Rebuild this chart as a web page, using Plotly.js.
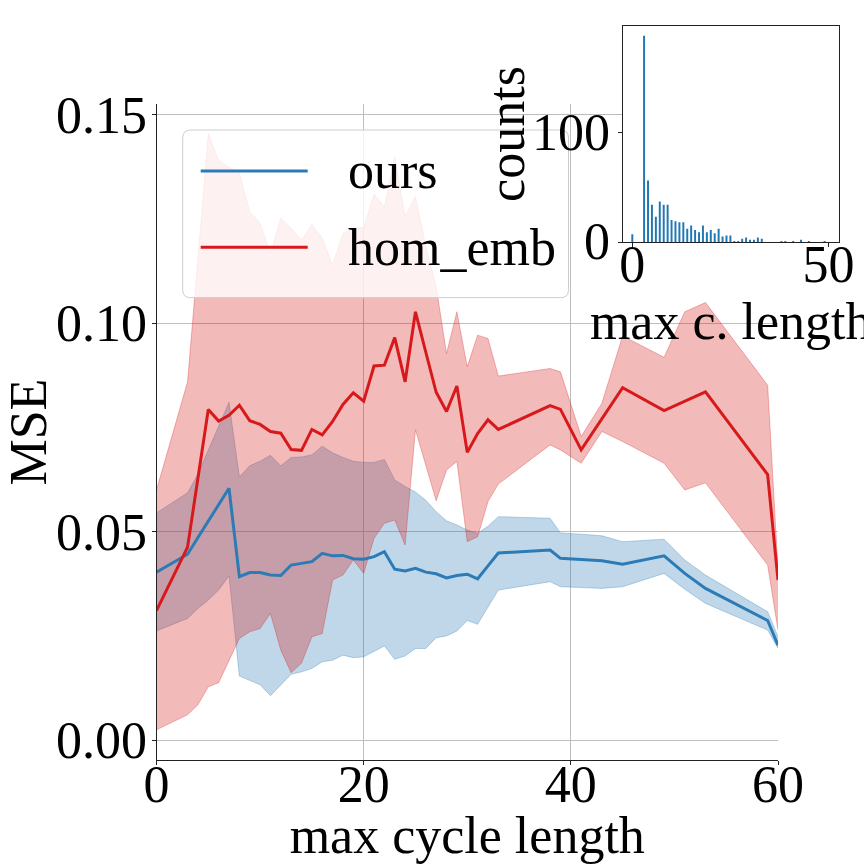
<!doctype html>
<html>
<head>
  <meta charset="utf-8">
  <title>MSE vs max cycle length</title>
  <script src="https://cdn.plot.ly/plotly-3.0.1.min.js"></script>
  <style>
    body { margin: 0; background: #fff; }
    #chart { width: 864px; height: 864px; }
  </style>
</head>
<body>
  <div id="chart"></div>
  <script>
    // x positions (max cycle length) shared by both series
    var cycleLen = [0, 3, 4, 5, 6, 7, 8, 9, 10, 11, 12, 13, 14, 15, 16, 17, 18, 19, 20,
                    21, 22, 23, 24, 25, 26, 27, 28, 29, 30, 31, 32, 33, 38, 39, 41, 43,
                    45, 49, 51, 53, 59, 60];

    // ours: mean and band
    var oursMean = [0.0403, 0.0446, 0.0486, 0.0525, 0.0565, 0.0604, 0.0392, 0.0402, 0.0402,
                    0.0396, 0.0395, 0.0420, 0.0424, 0.0428, 0.0448, 0.0442, 0.0443, 0.0435,
                    0.0434, 0.0440, 0.0452, 0.0410, 0.0406, 0.0412, 0.0403, 0.0399, 0.0389,
                    0.0395, 0.0398, 0.0387, 0.0418, 0.0449, 0.0456, 0.0436, 0.0433, 0.0430,
                    0.0422, 0.0442, 0.0400, 0.0364, 0.0287, 0.0228];
    var oursUpper = [0.0545, 0.0593, 0.0638, 0.0696, 0.0754, 0.0810, 0.0631, 0.0658, 0.0669,
                     0.0683, 0.0658, 0.0678, 0.0679, 0.0684, 0.0705, 0.0689, 0.0678, 0.0669,
                     0.0666, 0.0666, 0.0673, 0.0624, 0.0608, 0.0595, 0.0575, 0.0548, 0.0526,
                     0.0516, 0.0504, 0.0496, 0.0513, 0.0536, 0.0532, 0.0497, 0.0494, 0.0490,
                     0.0476, 0.0482, 0.0432, 0.0396, 0.0308, 0.0248];
    var oursLower = [0.0262, 0.0292, 0.0316, 0.0336, 0.0360, 0.0394, 0.0154, 0.0143, 0.0133,
                     0.0107, 0.0133, 0.0158, 0.0164, 0.0172, 0.0188, 0.0192, 0.0204, 0.0198,
                     0.0200, 0.0212, 0.0226, 0.0194, 0.0202, 0.0220, 0.0220, 0.0246, 0.0250,
                     0.0262, 0.0287, 0.0278, 0.0320, 0.0360, 0.0380, 0.0368, 0.0366, 0.0364,
                     0.0368, 0.0400, 0.0362, 0.0328, 0.0264, 0.0220];

    // hom_emb: mean and band
    var homMean = [0.0311, 0.0463, 0.0628, 0.0793, 0.0765, 0.0779, 0.0803, 0.0766, 0.0757,
                   0.0740, 0.0736, 0.0697, 0.0695, 0.0745, 0.0732, 0.0764, 0.0805, 0.0833,
                   0.0813, 0.0897, 0.0899, 0.0965, 0.0859, 0.1027, 0.0930, 0.0834, 0.0788,
                   0.0849, 0.0690, 0.0735, 0.0768, 0.0745, 0.0802, 0.0793, 0.0696, 0.0770,
                   0.0845, 0.0790, 0.0813, 0.0835, 0.0637, 0.0384];
    var homUpper = [0.0600, 0.0859, 0.1156, 0.1454, 0.1390, 0.1373, 0.1359, 0.1267, 0.1239,
                    0.1167, 0.1252, 0.1227, 0.1199, 0.1237, 0.1203, 0.1139, 0.1215, 0.1227,
                    0.1229, 0.1309, 0.1279, 0.1399, 0.1255, 0.1304, 0.1183, 0.1087, 0.0927,
                    0.1027, 0.0895, 0.0971, 0.0963, 0.0873, 0.0891, 0.0883, 0.0728, 0.0808,
                    0.0969, 0.0918, 0.1027, 0.1049, 0.0851, 0.0410];
    var homLower = [0.0025, 0.0061, 0.0085, 0.0128, 0.0138, 0.0192, 0.0244, 0.0260, 0.0268,
                    0.0304, 0.0216, 0.0162, 0.0185, 0.0248, 0.0256, 0.0384, 0.0396, 0.0432,
                    0.0400, 0.0484, 0.0520, 0.0528, 0.0468, 0.0744, 0.0660, 0.0574, 0.0648,
                    0.0668, 0.0476, 0.0488, 0.0572, 0.0614, 0.0708, 0.0696, 0.0664, 0.0740,
                    0.0716, 0.0664, 0.0600, 0.0617, 0.0420, 0.0264];

    // inset histogram
    var histLen = [0, 3, 4, 5, 6, 7, 8, 9, 10, 11, 12, 13, 14, 15, 16, 17, 18, 19, 20, 21,
                   22, 23, 24, 25, 26, 27, 28, 29, 30, 31, 32, 33, 38, 39, 41, 43, 45, 49];
    var histCounts = [7, 188, 56, 34, 23, 37, 34, 34, 20, 19, 18, 18, 12, 15, 11, 9, 15, 9,
                      11, 8, 12, 5, 6, 6, 1, 1, 3, 4, 2, 2, 4, 3, 1, 1, 1, 2, 1, 1];

    var seriesNames = ['ours', 'hom_emb'];
    var mainXTicks = [0, 20, 40, 60];
    var mainYTicks = [0, 0.05, 0.10, 0.15];
    var insetXTicks = [0, 50];
    var insetYTicks = [0, 100];

    var BLUE = '#2c7bb6', RED = '#d7191c';
    var BLUE_FILL = 'rgba(44,123,182,0.3)', RED_FILL = 'rgba(215,25,28,0.3)';
    var FONT = 'Liberation Serif, Times New Roman, serif';
    var FS = 52;

    // pixel -> paper helpers (page is 864x864, no margins)
    var W = 864;
    function px(x) { return x / W; }
    function py(y) { return 1 - y / W; }

    var traces = [
      {x: cycleLen, y: oursUpper, mode: 'lines', line: {color: BLUE_FILL, width: 1},
       hoverinfo: 'skip', showlegend: false},
      {x: cycleLen, y: oursLower, mode: 'lines', fill: 'tonexty', fillcolor: BLUE_FILL,
       line: {color: BLUE_FILL, width: 1}, hoverinfo: 'skip', showlegend: false},
      {x: cycleLen, y: homUpper, mode: 'lines', line: {color: RED_FILL, width: 1},
       hoverinfo: 'skip', showlegend: false},
      {x: cycleLen, y: homLower, mode: 'lines', fill: 'tonexty', fillcolor: RED_FILL,
       line: {color: RED_FILL, width: 1}, hoverinfo: 'skip', showlegend: false},
      {x: cycleLen, y: oursMean, mode: 'lines', name: seriesNames[0],
       line: {color: BLUE, width: 3}},
      {x: cycleLen, y: homMean, mode: 'lines', name: seriesNames[1],
       line: {color: RED, width: 3}},
      {x: histLen, y: histCounts, type: 'bar', width: 0.5, xaxis: 'x2', yaxis: 'y2',
       marker: {color: '#1f77b4', line: {width: 0}}, showlegend: false}
    ];

    var axisCommon = {
      showline: true, linecolor: '#222', linewidth: 1,
      ticks: 'outside', ticklen: 4, tickcolor: '#222', tickwidth: 1,
      zeroline: false, automargin: false,
      tickfont: {family: FONT, size: FS, color: '#000'},
      title: {font: {family: FONT, size: FS, color: '#000'}}
    };
    function axis(extra) {
      var a = JSON.parse(JSON.stringify(axisCommon));
      for (var k in extra) {
        if (k === 'title') { a.title.text = extra.title.text; a.title.standoff = extra.title.standoff; }
        else a[k] = extra[k];
      }
      return a;
    }

    // custom legend box with rounded corners
    var lx0 = px(182.7), lx1 = px(568.5), ly0 = py(297.7), ly1 = py(130);
    var r = 8 / W;
    var legendPath = 'M ' + (lx0 + r) + ' ' + ly1 +
      ' L ' + (lx1 - r) + ' ' + ly1 + ' Q ' + lx1 + ' ' + ly1 + ' ' + lx1 + ' ' + (ly1 - r) +
      ' L ' + lx1 + ' ' + (ly0 + r) + ' Q ' + lx1 + ' ' + ly0 + ' ' + (lx1 - r) + ' ' + ly0 +
      ' L ' + (lx0 + r) + ' ' + ly0 + ' Q ' + lx0 + ' ' + ly0 + ' ' + lx0 + ' ' + (ly0 + r) +
      ' L ' + lx0 + ' ' + (ly1 - r) + ' Q ' + lx0 + ' ' + ly1 + ' ' + (lx0 + r) + ' ' + ly1 + ' Z';
    var legendRows = [py(171), py(247.3)];
    var legendColors = [BLUE, RED];

    var shapes = [
      {type: 'path', xref: 'paper', yref: 'paper', path: legendPath, layer: 'above',
       fillcolor: 'rgba(255,255,255,0.8)', line: {color: '#cccccc', width: 1}}
    ];
    var annotations = [];
    seriesNames.forEach(function(name, i) {
      shapes.push({type: 'line', xref: 'paper', yref: 'paper', layer: 'above',
        x0: px(200.7), x1: px(307.7), y0: legendRows[i], y1: legendRows[i],
        line: {color: legendColors[i], width: 3}});
      annotations.push({xref: 'paper', yref: 'paper', x: px(346), y: legendRows[i],
        xanchor: 'left', yanchor: 'middle', text: name, showarrow: false,
        font: {family: FONT, size: FS, color: '#000'}});
    });
    // inset y tick labels drawn as annotations so they sit above the legend box
    insetYTicks.forEach(function(v) {
      annotations.push({xref: 'x2 domain', yref: 'y2', x: 0, y: v, xshift: -11,
        xanchor: 'right', yanchor: 'middle', text: String(v), showarrow: false,
        font: {family: FONT, size: FS, color: '#000'}});
    });

    var layout = {
      width: 864, height: 864,
      margin: {l: 0, r: 0, t: 0, b: 0},
      paper_bgcolor: '#fff', plot_bgcolor: '#fff',
      font: {family: FONT, size: FS, color: '#000'},
      showlegend: false,
      xaxis: axis({domain: [px(156.5), px(778)], range: [0, 60], anchor: 'y',
        tickvals: mainXTicks, showgrid: true, gridcolor: '#bdbdbd', gridwidth: 1,
        ticklabelstandoff: -26,
        title: {text: 'max cycle length', standoff: 24}}),
      yaxis: axis({domain: [py(760.3), py(104)], range: [-0.0048, 0.1525], anchor: 'x',
        tickvals: mainYTicks, tickformat: '.2f', showgrid: true, gridcolor: '#bdbdbd', gridwidth: 1,
        ticklabelstandoff: -6,
        title: {text: 'MSE', standoff: 17}}),
      xaxis2: axis({domain: [px(622.7), px(838.7)], range: [-2.45, 52.6], anchor: 'y2',
        tickvals: insetXTicks, showgrid: false, mirror: true,
        ticklabelstandoff: -27,
        title: {text: 'max c. length', standoff: 3}}),
      yaxis2: axis({domain: [py(242), py(26)], range: [0, 197], anchor: 'x2',
        tickvals: insetYTicks, showgrid: false, mirror: true, showticklabels: false,
        title: {text: 'counts', standoff: 76}}),
      shapes: shapes,
      annotations: annotations
    };

    Plotly.newPlot('chart', traces, layout, {displayModeBar: false, staticPlot: true});
  </script>
</body>
</html>
